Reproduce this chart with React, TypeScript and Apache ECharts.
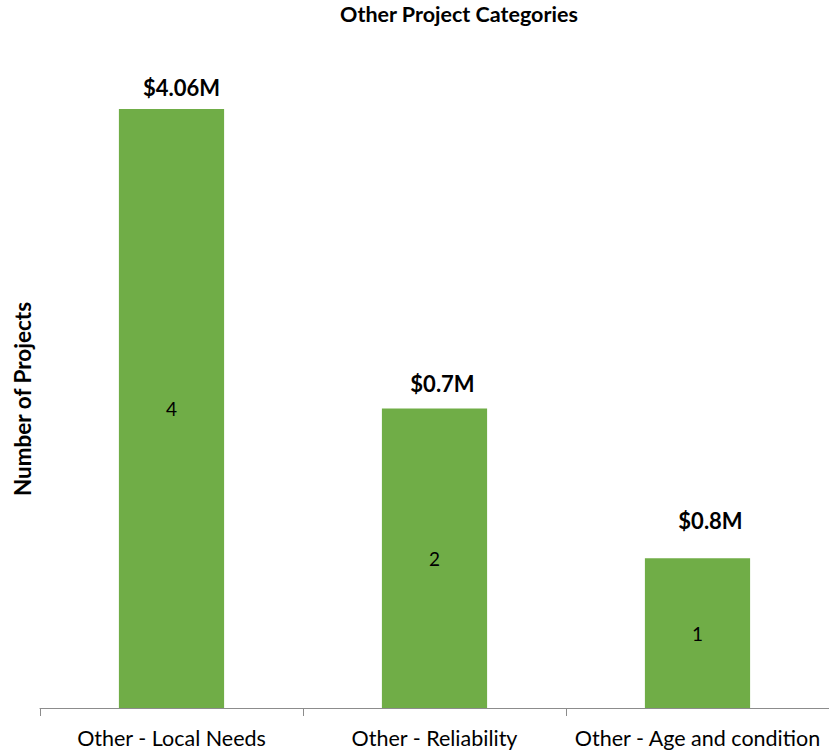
import React, { useEffect, useRef } from "react";
import * as echarts from "echarts";

const categories = ["Other - Local Needs", "Other - Reliability", "Other - Age and condition"];
const projectCounts = [4, 2, 1];
const costLabels = ["$4.06M", "$0.7M", "$0.8M"];
const yTicks = [0, 1, 2, 3, 4];

const FONT = "Lato, 'Open Sans', sans-serif";
const costLabelOffsets: [number, number][] = [
  [10, -6],
  [8, -9],
  [13, -22],
];

export default function App() {
  const ref = useRef<HTMLDivElement>(null);
  useEffect(() => {
    document.body.style.margin = "0";
    const chart = echarts.init(ref.current!, undefined, { renderer: "svg" });
    chart.setOption({
      animation: false,
      backgroundColor: "#ffffff",
      graphic: [
        {
          type: "text",
          x: 459,
          y: 14,
          style: {
            text: "Other Project Categories",
            font: `bold 21.5px ${FONT}`,
            fill: "#000000",
            textAlign: "center",
            textVerticalAlign: "middle",
          },
        },
        {
          type: "text",
          x: 22,
          y: 399,
          rotation: Math.PI / 2,
          style: {
            text: "Number of Projects",
            font: `bold 22.5px ${FONT}`,
            fill: "#000000",
            textAlign: "center",
            textVerticalAlign: "middle",
          },
        },
      ],
      grid: { left: 40, width: 795, top: 109, height: 599 },
      xAxis: {
        type: "category",
        data: categories,
        axisLine: { show: true, lineStyle: { color: "#8c8c8c", width: 1 } },
        axisTick: { show: true, length: 8, lineStyle: { color: "#8c8c8c" } },
        axisLabel: {
          color: "#000000",
          fontFamily: FONT,
          fontSize: 21.5,
          margin: 19,
          interval: 0,
        },
      },
      yAxis: {
        type: "value",
        min: yTicks[0],
        max: yTicks[yTicks.length - 1],
        interval: 1,
        axisLine: { show: false },
        axisTick: { show: false },
        axisLabel: { show: false },
        splitLine: { show: false },
      },
      series: [
        {
          type: "bar",
          data: projectCounts,
          barWidth: "40%",
          itemStyle: { color: "#70AD47" },
          label: {
            show: true,
            position: "inside",
            color: "#000000",
            fontFamily: FONT,
            fontSize: 19,
          },
        },
        {
          type: "bar",
          data: projectCounts.map((v, i) => ({
            value: v,
            label: { offset: costLabelOffsets[i] },
          })),
          barWidth: "40%",
          barGap: "-100%",
          itemStyle: { color: "rgba(0,0,0,0)" },
          silent: true,
          label: {
            show: true,
            position: "top",
            color: "#000000",
            fontFamily: FONT,
            fontSize: 22,
            fontWeight: "bold",
            formatter: (p: any) => costLabels[p.dataIndex],
          },
        },
      ],
    });
    return () => chart.dispose();
  }, []);
  return <div ref={ref} style={{ width: 829, height: 754 }} />;
}
